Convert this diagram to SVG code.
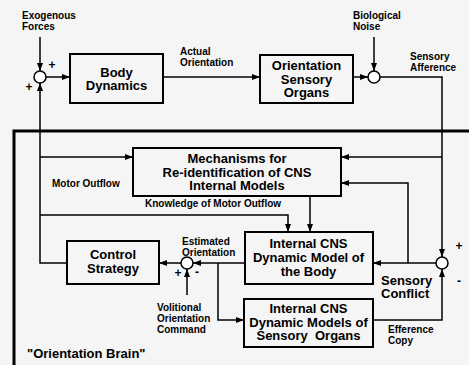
<svg xmlns="http://www.w3.org/2000/svg" width="469" height="365" viewBox="0 0 469 365">
<style>
.box{fill:none;stroke:#000;stroke-width:2}
.ln{fill:none;stroke:#000;stroke-width:1.5}
.ar{fill:none;stroke:#000;stroke-width:1.5;marker-end:url(#ah)}
.sj{fill:#fff;stroke:#000;stroke-width:1.5}
.bt{font-family:"Liberation Sans",Arial,sans-serif;font-weight:bold;font-size:13px;text-anchor:middle;fill:#000}
.lt{font-family:"Liberation Sans",Arial,sans-serif;font-weight:bold;font-size:10px;fill:#000}
.bl{font-family:"Liberation Sans",Arial,sans-serif;font-weight:bold;font-size:13px;fill:#000}
.sg{font-family:"Liberation Sans",Arial,sans-serif;font-weight:bold;font-size:12px;text-anchor:middle;fill:#000}
</style>
<defs>
<marker id="ah" markerWidth="8" markerHeight="6" refX="8" refY="3" orient="auto" markerUnits="userSpaceOnUse">
<path d="M0,0 L8,3 L0,6 Z" fill="#000"/>
</marker>
</defs>
<rect width="469" height="365" fill="#f5f5f5"/>
<rect x="14" y="131" width="470" height="250" fill="none" stroke="#000" stroke-width="3"/>
<text class="bl" x="27" y="358">"Orientation Brain"</text>

<g id="connectors">
<path class="ar" d="M40,37 L40,71"/>
<path class="ar" d="M46,77 L70,77"/>
<path class="ar" d="M163,77 L260,77"/>
<path class="ar" d="M353,77 L368,77"/>
<path class="ar" d="M374,37 L374,71"/>
<path class="ar" d="M380,77 L442,77 L442,257"/>
<path class="ar" d="M442,157 L341,157"/>
<path class="ar" d="M67,263 L40,263 L40,83"/>
<path class="ar" d="M40,157 L133,157"/>
<path class="ar" d="M40,215 L288,215 L288,232"/>
<path class="ar" d="M310,196 L310,232"/>
<path class="ar" d="M436,263 L373,263"/>
<path class="ar" d="M408,263 L408,183 L341,183"/>
<path class="ar" d="M373,320 L442,320 L442,269"/>
<path class="ar" d="M245,263 L193,263"/>
<path class="ar" d="M181,263 L159,263"/>
<path class="ar" d="M187,295 L187,269"/>
<path class="ar" d="M218,263 L218,320 L244,320"/>
</g>

<g id="sum1"><circle class="sj" cx="40" cy="77" r="6"/><text class="sg" x="52" y="69">+</text><text class="sg" x="29" y="91">+</text></g>
<g id="sum2"><circle class="sj" cx="374" cy="77" r="6"/></g>
<g id="sum3"><circle class="sj" cx="442" cy="263" r="6"/><text class="sg" x="459" y="250">+</text><text class="sg" x="459" y="285">-</text></g>
<g id="sum4"><circle class="sj" cx="187" cy="263" r="6"/><text class="sg" x="178" y="277">+</text><text class="sg" x="197" y="276">-</text></g>

<g id="exo"><text class="lt" x="22" y="19">Exogenous</text><text class="lt" x="22" y="30">Forces</text></g>
<g id="bio"><text class="lt" x="353" y="19">Biological</text><text class="lt" x="353" y="30">Noise</text></g>
<g id="actual"><text class="lt" x="180" y="55">Actual</text><text class="lt" x="180" y="66">Orientation</text></g>
<g id="afference"><text class="lt" x="410" y="60">Sensory</text><text class="lt" x="410" y="71">Afference</text></g>

<g id="body"><rect class="box" x="70" y="54" width="93" height="49"/><text class="bt" x="116.5" y="77">Body</text><text class="bt" x="116.5" y="90">Dynamics</text></g>
<g id="organs"><rect class="box" x="260" y="55" width="93" height="48"/><text class="bt" x="306.5" y="70">Orientation</text><text class="bt" x="306.5" y="84">Sensory</text><text class="bt" x="306.5" y="97">Organs</text></g>
<g id="mech"><rect class="box" x="133" y="148" width="208" height="48"/><text class="bt" x="237" y="163">Mechanisms for</text><text class="bt" x="237" y="177">Re-identification of CNS</text><text class="bt" x="237" y="190">Internal Models</text></g>
<g id="motor"><text class="lt" x="52" y="187">Motor Outflow</text></g>
<g id="knowledge"><text class="lt" x="145" y="207">Knowledge of Motor Outflow</text></g>
<g id="control"><rect class="box" x="67" y="241" width="92" height="43"/><text class="bt" x="113" y="259">Control</text><text class="bt" x="113" y="273">Strategy</text></g>
<g id="estimated"><text class="lt" x="182" y="245">Estimated</text><text class="lt" x="182" y="256">Orientation</text></g>
<g id="volitional"><text class="lt" x="157" y="311">Volitional</text><text class="lt" x="157" y="322">Orientation</text><text class="lt" x="157" y="333">Command</text></g>
<g id="modelbody"><rect class="box" x="245" y="232" width="128" height="52"/><text class="bt" x="308.5" y="248">Internal CNS</text><text class="bt" x="308.5" y="262">Dynamic Model of</text><text class="bt" x="308.5" y="276">the Body</text></g>
<g id="modelorgans"><rect class="box" x="244" y="299" width="129" height="48"/><text class="bt" x="308.5" y="313">Internal CNS</text><text class="bt" x="308.5" y="327">Dynamic Models of</text><text class="bt" x="308.5" y="340" xml:space="preserve">Sensory  Organs</text></g>
<g id="conflict"><text class="bl" x="381" y="285">Sensory</text><text class="bl" x="381" y="298">Conflict</text></g>
<g id="efference"><text class="lt" x="388" y="333">Efference</text><text class="lt" x="388" y="344">Copy</text></g>
</svg>
